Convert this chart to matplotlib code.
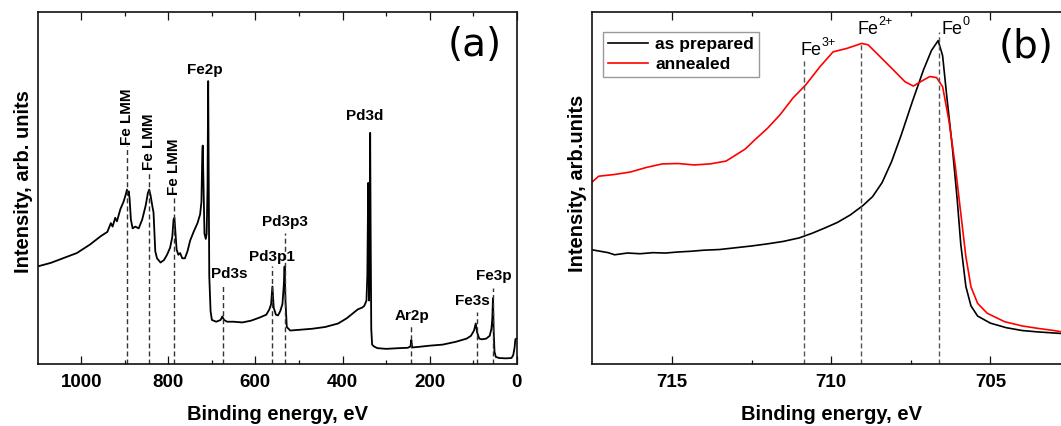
import matplotlib
matplotlib.use("Agg")
import matplotlib.pyplot as plt
from matplotlib.transforms import offset_copy

plt.rcParams['font.family'] = ['Liberation Sans', 'DejaVu Sans']

# ---- panel (a): survey spectrum ----
survey_be = [1100, 1070, 1040, 1010, 980, 955, 940, 932, 928, 922, 918, 910, 903, 898, 895, 893,
             891, 889, 886, 882, 876, 868, 860, 852, 847, 844, 841, 837, 834, 830, 826, 818,
             810, 803, 796, 791, 788, 786, 784, 781, 777, 773, 768, 762, 756, 750, 742, 733,
             727, 724, 722, 721, 719.5, 717, 714, 712, 710, 708.5, 707.5, 706, 703, 700, 690,
             680, 676, 672, 665, 650, 630, 610, 590, 575, 568, 564, 561, 558, 553, 548, 543,
             538, 535, 533, 531, 528, 520, 500, 470, 440, 410, 390, 375, 365, 355, 350, 345,
             343, 341, 340, 339, 338, 336.5, 335.5, 334, 332, 328, 320, 300, 270, 250, 244,
             242, 240, 230, 200, 170, 140, 115, 105, 98, 94, 91, 86, 80, 70, 62, 58, 56, 54.5,
             53, 51, 48, 40, 25, 12, 8, 5, 3, 1, 0]
survey_int = [27.7, 28.7, 30.1, 31.5, 33.9, 36.3, 37.5, 40.0, 39.0, 41.5, 40.5, 44.0, 46.0, 48.0, 49.5, 48.0,
              49.0, 47.0, 41.0, 38.5, 39.0, 38.5, 41.0, 45.0, 48.5, 49.5, 48.0, 45.0, 43.0, 32.0, 30.0, 28.8,
              29.5, 31.0, 33.0, 36.0, 41.0, 41.5, 38.0, 32.5, 31.0, 31.5, 30.0, 30.0, 32.0, 35.0, 37.5, 40.0,
              42.5, 46.0, 60.0, 62.0, 52.0, 37.0, 35.5, 37.0, 50.0, 80.3, 60.0, 25.0, 15.0, 12.5, 12.0,
              12.5, 13.5, 12.5, 12.0, 12.0, 11.8, 12.3, 13.2, 14.0, 15.5, 17.0, 22.0, 16.0, 14.0, 13.8, 15.0,
              17.0, 22.0, 27.7, 18.0, 10.5, 9.5, 9.7, 10.0, 10.5, 11.5, 13.0, 14.5, 15.5, 16.0, 16.5, 18.0,
              25.0, 51.4, 30.0, 18.0, 30.0, 65.6, 40.0, 10.0, 5.5, 5.0, 4.5, 4.3, 4.5, 4.6, 5.0,
              6.8, 4.7, 4.8, 5.2, 5.5, 6.3, 7.2, 8.0, 9.5, 11.5, 9.0, 7.2, 7.0, 7.2, 8.0, 10.0, 13.0, 18.7,
              10.0, 3.5, 2.0, 1.7, 1.6, 1.7, 2.5, 4.5, 7.0, 7.2, 7.2]

# peak markers
peak_pos = [895, 845, 787, 675, 561, 533, 242, 92, 54]
peak_top = [61.8, 54.7, 47.6, 22.5, 27.7, 37.2, 11.0, 14.8, 21.6]
peak_names = ['Fe LMM', 'Fe LMM', 'Fe LMM', 'Pd3s', 'Pd3p1', 'Pd3p3', 'Ar2p', 'Fe3s', 'Fe3p']
label_x = [895, 845, 787, 660, 561, 533, 241, 102, 52]
label_y = [62.3, 55.2, 48.1, 23.6, 28.3, 38.2, 11.6, 15.9, 23.0]
free_names = ['Fe2p', 'Pd3d']
free_x = [716, 348]
free_y = [81.5, 68.3]

# ---- panel (b): Fe2p3/2 region ----
prep_be = [717.5, 717.0, 716.8, 716.4, 716.0, 715.6, 715.2, 714.8, 714.4, 714.0, 713.5, 713.0, 712.5,
           712.0, 711.5, 711.0, 710.6, 710.2, 709.8, 709.4, 709.0, 708.7, 708.4, 708.1, 707.8, 707.45,
           707.1, 706.85, 706.64, 706.5, 706.37, 706.2, 706.04, 705.93, 705.77, 705.61, 705.4, 705.0,
           704.5, 704.0, 703.5, 703.0, 702.5]
prep_int = [32.4, 31.6, 31.0, 31.5, 31.3, 31.6, 31.5, 31.8, 32.0, 32.3, 32.5, 33.0, 33.5,
            34.1, 34.8, 35.8, 37.1, 38.6, 40.2, 42.3, 45.0, 47.5, 51.5, 57.5, 65.0, 74.5,
            83.5, 89.0, 91.8, 87.5, 76.0, 62.0, 46.5, 34.0, 22.0, 16.5, 13.6, 11.6,
            10.3, 9.5, 9.1, 8.8, 8.5]
ann_be = [717.5, 717.3, 716.8, 716.3, 715.8, 715.3, 714.8, 714.3, 713.8, 713.3, 713.0, 712.7, 712.4,
          712.0, 711.6, 711.2, 710.8, 710.35, 709.94, 709.5, 709.04, 708.84, 708.46, 708.05, 707.68,
          707.42, 707.1, 706.9, 706.69, 706.5, 706.3, 706.1, 705.93, 705.77, 705.61, 705.4, 705.1,
          704.55, 704.0, 703.5, 703.0, 702.5]
ann_int = [51.7, 53.3, 53.8, 54.5, 55.8, 56.8, 56.9, 56.5, 56.8, 57.6, 59.3, 61.0, 63.6,
           66.9, 70.8, 75.5, 79.2, 84.4, 88.6, 89.6, 91.0, 90.6, 87.2, 83.5, 80.1,
           78.9, 80.6, 81.6, 81.3, 78.7, 69.0, 56.0, 42.8, 30.5, 21.9, 17.2, 14.4,
           12.0, 10.8, 10.1, 9.5, 8.7]
state_pos = [710.84, 709.07, 706.62]
state_top = [86.3, 91.0, 94.3]
state_sup = ['3+', '2+', '0']
state_x = [710.95, 709.17, 706.52]   # left edge of "Fe"
state_y = [87.7, 93.6, 93.6]

fig = plt.figure(figsize=(10.61, 4.26), dpi=100)
ax1 = fig.add_axes([0.03553, 0.14554, 0.45146, 0.82700])
ax2 = fig.add_axes([0.55825, 0.14554, 0.45024, 0.82700])


def style_axis(ax):
    for s in ax.spines.values():
        s.set_linewidth(1.2)
        s.set_color('#111111')
    ax.tick_params(axis='x', which='both', direction='in', top=True, width=0.9,
                   labelsize=13.5, pad=7, color='#111111')
    ax.tick_params(axis='x', which='major', length=5.5)
    ax.tick_params(axis='x', which='minor', length=3)
    ax.tick_params(axis='y', which='both', left=False, labelleft=False)
    for t in ax.get_xticklabels():
        t.set_fontweight('bold')
    ax.set_ylim(0, 100)


# panel (a)
ax1.plot(survey_be, survey_int, color='black', lw=1.3)
for x, top in zip(peak_pos, peak_top):
    ax1.plot([x, x], [0, top], color='#333333', lw=1.0, dashes=(3.6, 2.2))
for name, x, y in zip(peak_names, label_x, label_y):
    rot = 90 if name == 'Fe LMM' else 0
    ax1.text(x, y, name, rotation=rot, ha='center', va='bottom', fontsize=11, fontweight='bold')
for name, x, y in zip(free_names, free_x, free_y):
    ax1.text(x, y, name, ha='center', va='bottom', fontsize=11, fontweight='bold')
ax1.set_xlim(1100, 0)
ax1.set_xticks([1000, 800, 600, 400, 200, 0])
ax1.set_xticks(range(100, 1100, 200), minor=True)
style_axis(ax1)
ax1.set_xlabel('Binding energy, eV', fontsize=14.5, fontweight='bold', labelpad=10.5)
ax1.text(0.913, 0.905, '(a)', transform=ax1.transAxes, ha='center', va='center',
         fontsize=28, family='DejaVu Sans')

# panel (b)
ax2.plot(prep_be, prep_int, color='black', lw=1.2, label='as prepared')
ax2.plot(ann_be, ann_int, color='#ff0000', lw=1.2, label='annealed')
for x, top in zip(state_pos, state_top):
    ax2.plot([x, x], [0, top], color='#555555', lw=1.0, dashes=(3.6, 2.2))
sup_tr = offset_copy(ax2.transData, fig=fig, x=14.8, y=6.5, units='points')
for sup, x, y in zip(state_sup, state_x, state_y):
    ax2.text(x, y, 'Fe', ha='left', va='baseline', fontsize=13)
    ax2.text(x, y, sup, ha='left', va='baseline', fontsize=9, transform=sup_tr)
ax2.set_xlim(717.5, 702.5)
ax2.set_xticks([715, 710, 705])
ax2.set_xticks([712.5, 707.5, 702.5], minor=True)
style_axis(ax2)
ax2.set_xlabel('Binding energy, eV', fontsize=14.5, fontweight='bold', labelpad=10.5)
ax2.text(0.908, 0.9, '(b)', transform=ax2.transAxes, ha='center', va='center',
         fontsize=28, family='DejaVu Sans')
leg = ax2.legend(loc='upper left', bbox_to_anchor=(0.0224, 0.942), borderaxespad=0,
                 fancybox=False, edgecolor='#999999', framealpha=1, handlelength=2.3,
                 handletextpad=0.4, labelspacing=0.25, borderpad=0.3,
                 prop={'size': 12.5, 'weight': 'bold'})
leg.get_frame().set_linewidth(1.0)

# y labels as free figure text
fig.text(23.5 / 1061, 1 - 182 / 426, 'Intensity, arb. units', rotation=90, ha='center',
         va='center', fontsize=14.5, fontweight='bold')
fig.text(577.5 / 1061, 1 - 183 / 426, 'Intensity, arb.units', rotation=90, ha='center',
         va='center', fontsize=14.5, fontweight='bold')

fig.savefig('out.png', dpi=100)
